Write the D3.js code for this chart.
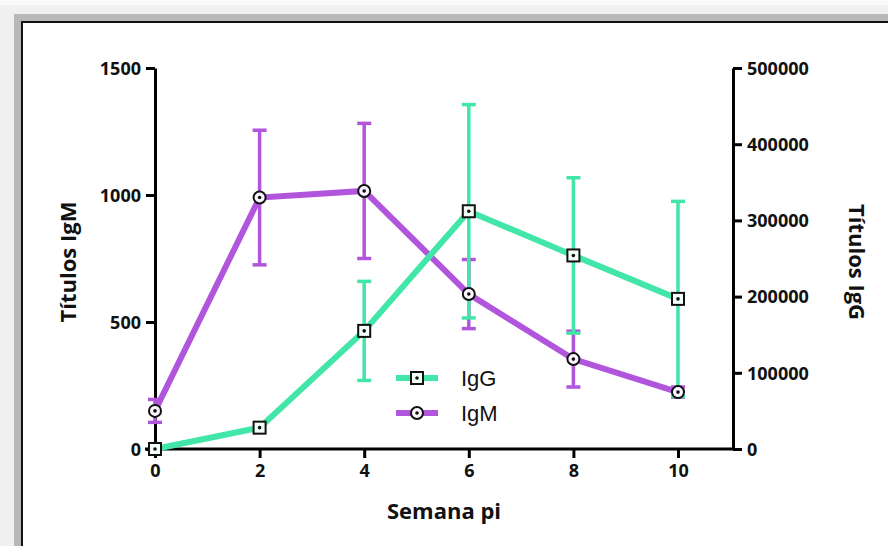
<!DOCTYPE html>
<html>
<head>
<meta charset="utf-8">
<script src="https://cdn.jsdelivr.net/npm/d3@7"></script>
<style>
  html, body { margin: 0; padding: 0; background: #f0f0f0; }
  svg { display: block; }
</style>
</head>
<body>
<svg id="chart" width="888" height="546"></svg>
<script>
// Weeks post-infection
const weeks = [0, 2, 4, 6, 8, 10];
// IgM titres (left axis) and error
const igm = [150, 990, 1016, 610, 354, 224];
const igmErr = [45, 265, 266, 136, 110, 20];
// IgG titres (right axis) and error
const igg = [0, 28000, 155000, 312000, 254000, 197000];
const iggErr = [0, 0, 65000, 140000, 102000, 128000];

const leftTicks = [0, 500, 1000, 1500];
const rightTicks = [0, 100000, 200000, 300000, 400000, 500000];
const xTicks = [0, 2, 4, 6, 8, 10];

const green = "#42e6a9";
const purple = "#b156dc";
const axisFont = "'Open Sans', Lato, sans-serif";

const svg = d3.select("#chart");

// Window-like frame
svg.append("rect").attr("x", 0).attr("y", 0).attr("width", 888).attr("height", 546).attr("fill", "#f0f0f0");
svg.append("rect").attr("x", 0).attr("y", 0).attr("width", 888).attr("height", 5).attr("fill", "#fafafa");
svg.append("rect").attr("x", 14).attr("y", 14).attr("width", 874).attr("height", 532).attr("fill", "#b8b8b8");
svg.append("rect").attr("x", 21).attr("y", 21).attr("width", 867).attr("height", 525).attr("fill", "#111");
svg.append("rect").attr("x", 23).attr("y", 23).attr("width", 865).attr("height", 523).attr("fill", "#ffffff");

const x = d3.scaleLinear().domain([0, 10]).range([155, 678]);
const yL = d3.scaleLinear().domain([0, 1500]).range([449, 68]);
const yR = d3.scaleLinear().domain([0, 500000]).range([449, 68]);
const fmt = d3.format("d");

function styleAxis(g) {
  g.selectAll("path.domain").attr("stroke", "#000").attr("stroke-width", 3);
  g.selectAll(".tick line").attr("stroke", "#000").attr("stroke-width", 3);
  g.selectAll(".tick text")
    .attr("fill", "#111")
    .style("font-family", axisFont)
    .style("font-size", "18px")
    .style("font-weight", "bold");
}

// Left axis
const gL = svg.append("g").attr("transform", `translate(${x(0)},0)`)
  .call(d3.axisLeft(yL).tickValues(leftTicks).tickFormat(fmt).tickSize(9).tickPadding(5).tickSizeOuter(0));
styleAxis(gL);
gL.selectAll(".tick text").attr("dy", "0.35em");

// Right axis
const xRight = 733;
const gR = svg.append("g").attr("transform", `translate(${xRight},0)`)
  .call(d3.axisRight(yR).tickValues(rightTicks).tickFormat(fmt).tickSize(9).tickPadding(5).tickSizeOuter(0));
styleAxis(gR);
gR.selectAll(".tick text").attr("dy", "0.35em");

// Bottom axis (runs to the right axis)
const gB = svg.append("g").attr("transform", `translate(0,${yL(0)})`)
  .call(d3.axisBottom(x).tickValues(xTicks).tickFormat(fmt).tickSize(9).tickPadding(6).tickSizeOuter(0));
styleAxis(gB);
gB.select("path.domain").attr("d", `M${x(0) - 10},0H${xRight}`);

// Axis titles
const titleStyle = sel => sel.attr("text-anchor", "middle").attr("fill", "#111")
  .style("font-family", axisFont).style("font-size", "22px").style("font-weight", "bold");
svg.append("text").attr("transform", "translate(76,262) rotate(-90)").call(titleStyle).text("Títulos IgM");
svg.append("text").attr("transform", "translate(849,262) rotate(90)").call(titleStyle).text("Títulos IgG");
svg.append("text").attr("x", 444).attr("y", 519).call(titleStyle).text("Semana pi");

const igmData = weeks.map((w, i) => ({ w, v: igm[i], e: igmErr[i] }));
const iggData = weeks.map((w, i) => ({ w, v: igg[i], e: iggErr[i] }));

function errorBars(data, y, color) {
  const g = svg.append("g").attr("stroke", color).attr("stroke-width", 3.5).attr("fill", "none");
  data.filter(d => d.e > 0).forEach(d => {
    const cx = x(d.w);
    g.append("line").attr("x1", cx).attr("x2", cx).attr("y1", y(d.v + d.e)).attr("y2", y(d.v - d.e));
    g.append("line").attr("x1", cx - 7).attr("x2", cx + 7).attr("y1", y(d.v + d.e)).attr("y2", y(d.v + d.e));
    g.append("line").attr("x1", cx - 7).attr("x2", cx + 7).attr("y1", y(d.v - d.e)).attr("y2", y(d.v - d.e));
  });
}

function seriesLine(data, y, color) {
  svg.append("path").datum(data)
    .attr("fill", "none").attr("stroke", color).attr("stroke-width", 6)
    .attr("d", d3.line().x(d => x(d.w)).y(d => y(d.v)));
}

function squareMarker(g, cx, cy) {
  g.append("rect").attr("x", cx - 6).attr("y", cy - 6).attr("width", 12).attr("height", 12)
    .attr("fill", "#f4fffa").attr("stroke", "#111").attr("stroke-width", 2);
  g.append("circle").attr("cx", cx).attr("cy", cy).attr("r", 1.8).attr("fill", "#111");
}
function circleMarker(g, cx, cy) {
  g.append("circle").attr("cx", cx).attr("cy", cy).attr("r", 6)
    .attr("fill", "#fbf5ff").attr("stroke", "#111").attr("stroke-width", 2);
  g.append("circle").attr("cx", cx).attr("cy", cy).attr("r", 1.8).attr("fill", "#111");
}

errorBars(igmData, yL, purple);
seriesLine(igmData, yL, purple);
errorBars(iggData, yR, green);
seriesLine(iggData, yR, green);

const mk = svg.append("g");
igmData.forEach(d => circleMarker(mk, x(d.w), yL(d.v)));
iggData.forEach(d => squareMarker(mk, x(d.w), yR(d.v)));

// Legend
const legend = [
  { name: "IgG", color: green, marker: squareMarker },
  { name: "IgM", color: purple, marker: circleMarker }
];
legend.forEach((l, i) => {
  const ly = 378 + i * 35;
  svg.append("line").attr("x1", 396).attr("x2", 438).attr("y1", ly).attr("y2", ly)
    .attr("stroke", l.color).attr("stroke-width", 6);
  l.marker(svg, 417, ly);
  svg.append("text").attr("x", 461).attr("y", ly + 8)
    .attr("fill", "#111").style("font-family", "'Liberation Sans', Arial, sans-serif")
    .style("font-size", "22px").text(l.name);
});
</script>
</body>
</html>
